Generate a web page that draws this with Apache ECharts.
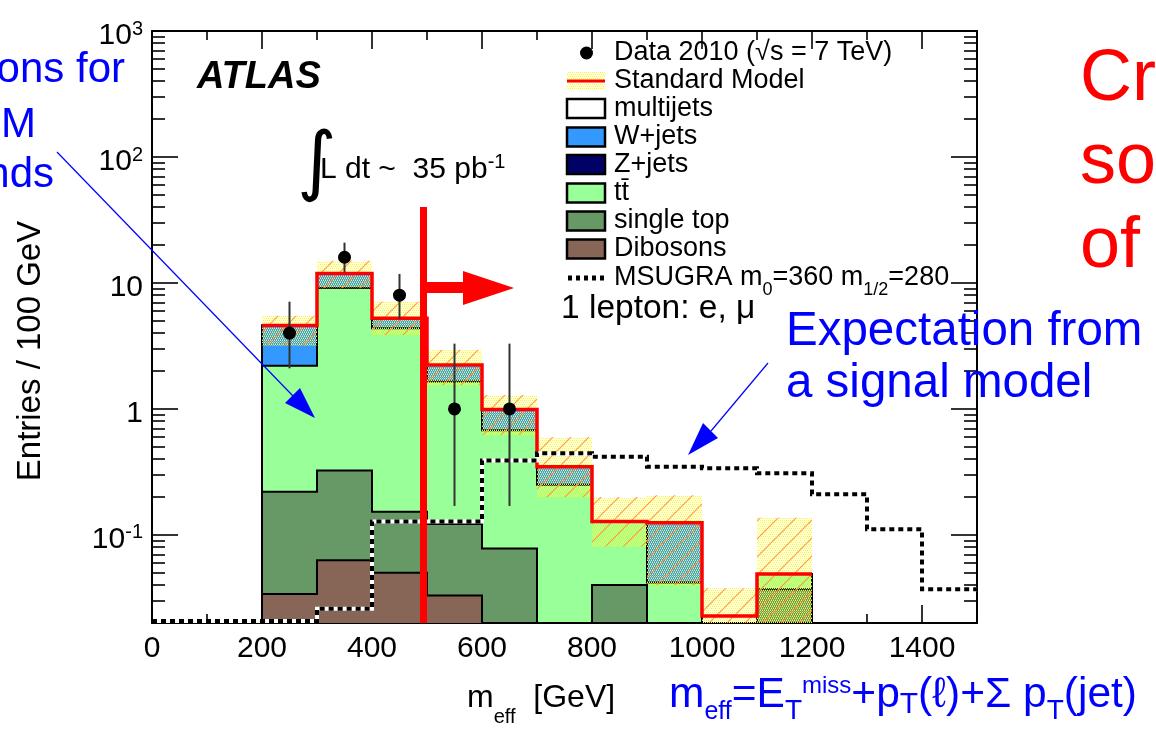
<!DOCTYPE html>
<html><head><meta charset="utf-8">
<script src="https://cdn.jsdelivr.net/npm/echarts@6/dist/echarts.min.js"></script>
<style>html,body{margin:0;padding:0;background:#fff}#c{width:1156px;height:732px}</style>
</head><body><div id="c"></div>
<script>
// ---------------- data ----------------
const binEdges   = [0,100,200,300,400,500,600,700,800,900,1000,1100,1200,1300,1400,1500];
const dibosons   = [0,0,0.034,0.063,0.050,0.033,0,0,0,0,0,0,0,0,0];
const singleTop  = [0,0,0.186,0.261,0.103,0.089,0.078,0,0.040,0,0,0.037,0,0,0];
const ttbar      = [0,0,1.98,8.78,4.22,1.53,0.60,0.25,0.088,0.042,0,0.012,0,0,0];
const zjets      = [0,0,0,0,0,0,0,0,0,0,0,0,0,0,0];
const wjets      = [0,0,2.4,2.8,0.88,0.58,0.31,0.098,0,0.083,0,0,0,0,0];
const multijets  = [0,0,0,0,0,0,0,0,0,0,0.0227,0,0,0,0];
const smBandLow  = [0,0,3.16,9.1,3.87,1.55,0.62,0.20,0.081,0.040,0,0,0,0,0];
const smBandHigh = [0,0,5.5,15.0,7.1,2.94,1.29,0.60,0.20,0.207,0.0377,0.137,0,0,0];
const msugra     = [0,0,0,0.026,0.128,0.128,0.39,0.445,0.418,0.348,0.338,0.309,0.21,0.111,0.037];
const dataX       = [250,350,450,550,650];
const dataY       = [4,16,8,1,1];
const dataErrLow  = [2.1,12.1,5.2,0.17,0.17];
const dataErrHigh = [7.1,20.9,11.8,3.3,3.3];
const xMajorTicks = [0,200,400,600,800,1000,1200,1400];
const xMinorTicks = [100,300,500,700,900,1100,1300];
const yMajorTicks = [0.1,1,10,100,1000];
const yMinorTicks = [0.02,0.03,0.04,0.05,0.06,0.07,0.08,0.09,
                     0.2,0.3,0.4,0.5,0.6,0.7,0.8,0.9,
                     2,3,4,5,6,7,8,9,
                     20,30,40,50,60,70,80,90,
                     200,300,400,500,600,700,800,900];
const YMIN = 0.02, YMAX = 1000, XMIN = 0, XMAX = 1500;

const components = [
  {name:'Dibosons',   values:dibosons,  color:'#876657'},
  {name:'single top', values:singleTop, color:'#669966'},
  {name:'tt\u0304',   values:ttbar,     color:'#99ff99'},
  {name:'Z+jets',     values:zjets,     color:'#000066'},
  {name:'W+jets',     values:wjets,     color:'#3399ff'},
  {name:'multijets',  values:multijets, color:'#ffffff'}
];
const nb = binEdges.length - 1;
const cum = [dibosons.map(()=>0)];
components.forEach((c,k)=>cum.push(c.values.map((v,i)=>cum[k][i]+v)));
const total = cum[components.length];
const FONT = 'Liberation Sans';

function makePattern(hatch){
  const s=18, cv=document.createElement('canvas'); cv.width=s; cv.height=s;
  const g=cv.getContext('2d');
  for(let y=0;y<s;y+=2)for(let x=0;x<s;x+=2){
    const o=(y/2)%2;
    g.fillStyle='rgba(255,255,0,1)'; g.fillRect(x+o,y,1,1);
    g.fillStyle='rgba(255,255,200,0.45)'; g.fillRect(x+1-o,y+1,1,1);
  }
  if(hatch){
    g.strokeStyle='rgba(255,140,60,0.85)'; g.lineWidth=1.2;
    for(const o of [-s,0,s]){ g.beginPath(); g.moveTo(o-1,s+1); g.lineTo(o+s+1,-1); g.stroke(); }
  }
  return cv;
}
const bandPattern = {image: makePattern(true), repeat:'repeat'};
const legendPattern = {image: makePattern(false), repeat:'repeat'};
const cy = v => Math.max(v, YMIN);

const series = [];
// stacked fills
components.forEach((c,k)=>{
  series.push({
    type:'custom', name:c.name, xAxisIndex:0, yAxisIndex:0, z:2, silent:true, clip:false,
    encode:{x:[0,1], y:[2,3]},
    data: c.values.map((v,i)=>[binEdges[i],binEdges[i+1],cum[k][i],cum[k+1][i]]).filter(d=>d[3]>d[2] && d[3]>YMIN),
    renderItem:(p,api)=>{
      const a=api.coord([api.value(0), api.value(3)]);
      const b=api.coord([api.value(1), cy(api.value(2))]);
      return {type:'rect', shape:{x:a[0],y:a[1],width:b[0]-a[0],height:b[1]-a[1]}, style:{fill:c.color}};
    }
  });
});
// black histogram outlines
series.push({
  type:'custom', name:'outlines', xAxisIndex:0, yAxisIndex:0, z:3, silent:true, clip:false,
  encode:{x:0,y:1},
  data: components.map((c,k)=>[XMIN, 1, k]).filter(d=>components[d[2]].values.some(v=>v>0)),
  renderItem:(p,api)=>{
    const k=api.value(2), top=cum[k+1], pts=[];
    for(let i=0;i<nb;i++){ pts.push(api.coord([binEdges[i],cy(top[i])])); pts.push(api.coord([binEdges[i+1],cy(top[i])])); }
    return {type:'polyline', shape:{points:pts}, style:{stroke:'#000', lineWidth:2, fill:null}};
  }
});
// SM uncertainty band
series.push({
  type:'custom', name:'SM uncertainty', xAxisIndex:0, yAxisIndex:0, z:4, silent:true, clip:false,
  encode:{x:[0,1], y:[2,3]},
  data: smBandHigh.map((h,i)=>[binEdges[i],binEdges[i+1],smBandLow[i],h]).filter(d=>d[3]>YMIN),
  renderItem:(p,api)=>{
    const a=api.coord([api.value(0), api.value(3)]);
    const b=api.coord([api.value(1), cy(api.value(2))]);
    return {type:'rect', shape:{x:a[0],y:a[1],width:b[0]-a[0],height:b[1]-a[1]}, style:{fill:bandPattern}};
  }
});
// SM total (red)
series.push({
  type:'custom', name:'Standard Model', xAxisIndex:0, yAxisIndex:0, z:5, silent:true, clip:false,
  encode:{x:0,y:1}, data:[[XMIN,1]],
  renderItem:(p,api)=>{
    const pts=[];
    for(let i=0;i<nb;i++){ if(total[i]>0){ pts.push(api.coord([binEdges[i],cy(total[i])])); pts.push(api.coord([binEdges[i+1],cy(total[i])])); } }
    return {type:'polyline', shape:{points:pts}, style:{stroke:'#ff0000', lineWidth:3.5, fill:null}};
  }
});
// MSUGRA signal
series.push({
  type:'custom', name:'MSUGRA', xAxisIndex:0, yAxisIndex:0, z:6, silent:true, clip:false,
  encode:{x:0,y:1}, data:[[XMIN,1]],
  renderItem:(p,api)=>{
    const pts=[];
    for(let i=0;i<nb;i++){ pts.push(api.coord([binEdges[i],cy(msugra[i])])); pts.push(api.coord([binEdges[i+1],cy(msugra[i])])); }
    pts.forEach(q=>{ if(q[1]>620) q[1]=621; });
    return {type:'group', children:[
      {type:'polyline', shape:{points:pts}, style:{stroke:'#fff', lineWidth:4, fill:null}},
      {type:'polyline', shape:{points:pts}, style:{stroke:'#000', lineWidth:4, lineDash:[5,4], fill:null}}
    ]};
  }
});
// data points
series.push({
  type:'custom', name:'Data 2010', xAxisIndex:0, yAxisIndex:0, z:7, silent:true, clip:false,
  encode:{x:0,y:[1,2,3]},
  data: dataX.map((x,i)=>[x,dataY[i],dataErrLow[i],dataErrHigh[i]]),
  renderItem:(p,api)=>{
    const c=api.coord([api.value(0),api.value(1)]);
    const lo=api.coord([api.value(0),api.value(2)]);
    const hi=api.coord([api.value(0),api.value(3)]);
    return {type:'group', children:[
      {type:'line', shape:{x1:lo[0],y1:lo[1],x2:hi[0],y2:hi[1]}, style:{stroke:'#333', lineWidth:2}},
      {type:'circle', shape:{cx:c[0],cy:c[1],r:6.5}, style:{fill:'#000'}}
    ]};
  }
});

const lineSt = {color:'#000', width:2};
const tickSt = {color:'#000', width:1.6};
function xAx(pos, major){
  return {type:'value', min:XMIN, max:XMAX, position:pos,
    axisLine:{show:major, onZero:false, lineStyle:lineSt},
    axisTick:{show:true, inside:true, length: major?18:9, lineStyle:tickSt, customValues: major?xMajorTicks:xMinorTicks},
    axisLabel:(pos==='bottom'&&major)?{show:true, customValues:xMajorTicks, fontSize:30, fontFamily:FONT, color:'#000', margin:11,
      formatter:v=>String(Math.round(v))}:{show:false},
    splitLine:{show:false}};
}
function yAx(pos, major){
  return {type:'log', logBase:10, min:YMIN, max:YMAX, position:pos,
    axisLine:{show:major, onZero:false, lineStyle:lineSt},
    axisTick:{show:true, inside:true, length: major?26:13, lineStyle:tickSt, customValues: major?yMajorTicks:yMinorTicks},
    axisLabel:(pos==='left'&&major)?{show:true, customValues:yMajorTicks, margin:9, padding:[10,0,0,0],
      formatter:v=>{ const e=Math.round(Math.log10(v)); if(e===0) return '{n|1}'; if(e===1) return '{n|10}'; return '{n|10}{s|'+e+'}'; },
      rich:{n:{fontSize:30, fontFamily:FONT, color:'#000', lineHeight:30},
            s:{fontSize:20, fontFamily:FONT, color:'#000', lineHeight:6, padding:[0,0,14,0]}}}:{show:false},
    splitLine:{show:false}};
}

// ---------------- annotations / legend (graphic) ----------------
const BLUE='#0000ff', RED='#ff0000';
function txt(text, x, y, o){
  return {type:'text', x, y, z:50, silent:true, style:Object.assign({text, fill:'#000', fontSize:27, fontFamily:FONT,
    align:'left', verticalAlign:'middle', textAlign:'left', textVerticalAlign:'middle'}, o||{})};
}
const g = [];
// legend
const rowY = [53, 81, 108.5, 137, 164.5, 193, 221, 249, 278];
g.push({type:'circle', z:50, silent:true, shape:{cx:586.5, cy:rowY[0], r:6.5}, style:{fill:'#000'}});
g.push(txt('Data 2010 (\u221As = 7 TeV)', 614, rowY[0]));
g.push({type:'rect', z:50, silent:true, shape:{x:567,y:rowY[1]-9,width:38,height:18}, style:{fill:legendPattern}});
g.push({type:'line', z:51, silent:true, shape:{x1:567,y1:rowY[1],x2:605,y2:rowY[1]}, style:{stroke:RED, lineWidth:3}});
g.push(txt('Standard Model', 614, rowY[1]));
components.slice().reverse().forEach((c,j)=>{
  const y=rowY[2+j];
  g.push({type:'rect', z:50, silent:true, shape:{x:567,y:y-9.5,width:38,height:19}, style:{fill:c.color, stroke:'#000', lineWidth:2.5}});
  g.push(txt(c.name, 614, y));
});
g.push({type:'line', z:50, silent:true, shape:{x1:568,y1:rowY[8],x2:606,y2:rowY[8]}, style:{stroke:'#000', lineWidth:5, lineDash:[4,4]}});
g.push(txt('MSUGRA m{s|0}=360 m{s|1/2}=280', 614, rowY[8], {rich:{s:{fontSize:18, fontFamily:FONT, fill:'#000', lineHeight:6, padding:[24,0,0,0]}}}));
// texts in the plot
g.push(txt('ATLAS', 197, 78, {fontSize:38, fontWeight:'bold', fontStyle:'italic'}));
g.push(txt('\u222B', 297, 166, {fontSize:76, fontFamily:'DejaVu Sans'}));
g.push(txt('L dt ~  35 pb{s|-1}', 320, 169.6, {fontSize:30, rich:{s:{fontSize:20, fontFamily:FONT, fill:'#000', lineHeight:6, padding:[0,0,15,0]}}}));
g.push(txt('1 lepton: e, \u03BC', 561, 308.5, {fontSize:33.5}));
// axis titles
g.push({type:'text', x:31, y:351, rotation:Math.PI/2, z:50, silent:true, style:{text:'Entries / 100 GeV', fill:'#000', fontSize:33, fontFamily:FONT, align:'center', verticalAlign:'middle', textAlign:'center', textVerticalAlign:'middle'}});
g.push(txt('m{s|eff}  [GeV]', 467, 698, {fontSize:32, rich:{s:{fontSize:20, fontFamily:FONT, fill:'#000', lineHeight:6, padding:[38,0,0,0]}}}));
// red cut annotation
g.push({type:'rect', z:60, silent:true, shape:{x:420,y:207,width:7,height:416}, style:{fill:RED}});
g.push({type:'rect', z:60, silent:true, shape:{x:427,y:282,width:40,height:11}, style:{fill:RED}});
g.push({type:'polygon', z:60, silent:true, shape:{points:[[463,271],[514,288],[463,305]]}, style:{fill:RED}});
// blue arrows
g.push({type:'line', z:60, silent:true, shape:{x1:57,y1:152,x2:293,y2:396}, style:{stroke:BLUE, lineWidth:1.2}});
g.push({type:'polygon', z:60, silent:true, shape:{points:[[300,388],[285,403],[315,418]]}, style:{fill:BLUE}});
g.push({type:'line', z:60, silent:true, shape:{x1:768,y1:363,x2:711,y2:431}, style:{stroke:BLUE, lineWidth:1.2}});
g.push({type:'polygon', z:60, silent:true, shape:{points:[[703,423],[718,438],[688,455]]}, style:{fill:BLUE}});
// blue / red slide texts
g.push(txt('ons for', 125, 70, {fontSize:42, fill:BLUE, align:'right', textAlign:'right'}));
g.push(txt('M', 36, 125, {fontSize:42, fill:BLUE, align:'right', textAlign:'right'}));
g.push(txt('nds', 54, 175, {fontSize:42, fill:BLUE, align:'right', textAlign:'right'}));
g.push(txt('Expectation from', 786, 331.5, {fontSize:47.5, fill:BLUE}));
g.push(txt('a signal model', 786, 383.5, {fontSize:47.5, fill:BLUE}));
g.push(txt('Cr', 1080, 80, {fontSize:72, fill:RED}));
g.push(txt('so', 1080, 163, {fontSize:72, fill:RED}));
g.push(txt('of', 1080, 247, {fontSize:72, fill:RED}));
const sb = (fs,p)=>({fontSize:fs, fontFamily:FONT, fill:BLUE, lineHeight:6, padding:[p,0,0,0]});
g.push(txt('{a|m}{s1|eff}{a|=E}{s2|T}{sp|miss}{a|+p}{s3|T}{a|(\u2113)+\u03A3 p}{s4|T}{a|(jet)}', 669, 695, {fontSize:42, fill:BLUE,
  rich:{a:{fontSize:42.5, fontFamily:FONT, fill:BLUE, lineHeight:42},
        s1:sb(25,35), s2:sb(28,33), s3:sb(30,20), s4:sb(28,33),
        sp:{fontSize:24, fontFamily:FONT, fill:BLUE, lineHeight:6, padding:[0,0,17,0]}}}));

const chart = echarts.init(document.getElementById('c'), null, {renderer:'canvas', width:1156, height:732});
chart.setOption({
  animation:false,
  backgroundColor:'#fff',
  grid:{left:152, right:179, top:31, bottom:109, containLabel:false},
  xAxis:[xAx('bottom',true), xAx('bottom',false), xAx('top',true), xAx('top',false)],
  yAxis:[yAx('left',true), yAx('left',false), yAx('right',true), yAx('right',false)],
  series,
  graphic:{elements:g}
});
</script></body></html>
